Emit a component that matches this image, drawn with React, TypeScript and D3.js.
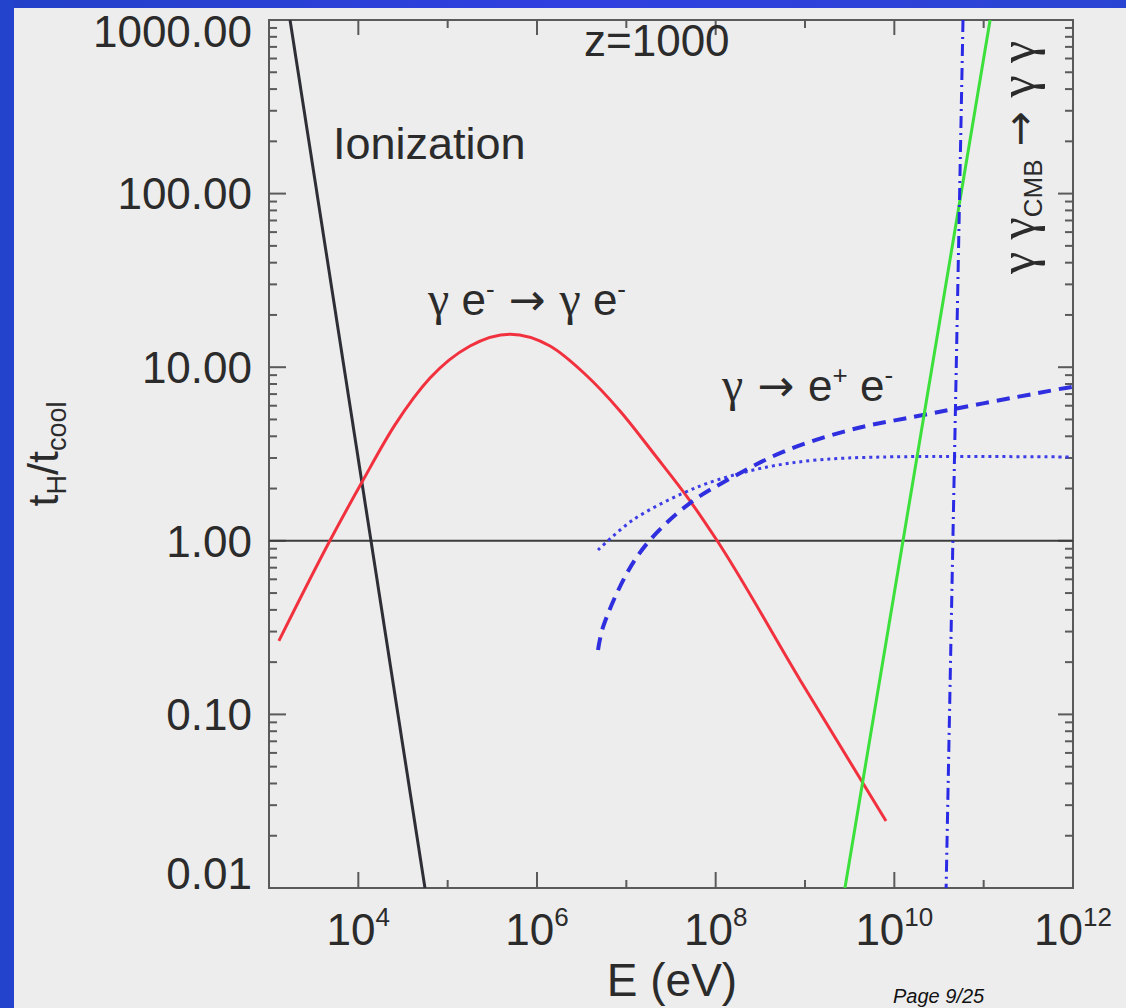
import React from "react";
import * as d3 from "d3";

// Axis ticks
const energyMajorTicks = [1e4, 1e6, 1e8, 1e10, 1e12];
const energyMajorExponents = ["4", "6", "8", "10", "12"];
const energyMinorTicks = [1e3, 1e5, 1e7, 1e9, 1e11];
const ratioMajorTicks = [0.01, 0.1, 1, 10, 100, 1000];
const ratioMajorLabels = ["0.01", "0.10", "1.00", "10.00", "100.00", "1000.00"];

// Ionization losses (straight power law)
const ionizationE = [1.72e3, 5.57e4];
const ionizationV = [1000, 0.01];

// Compton scattering  γ e⁻ → γ e⁻
const comptonE = [1.29e3, 4.8e3, 1.1e4, 2.57e4, 6.34e4, 1.78e5, 4.99e5, 1.4e6, 3.44e6, 8.49e6, 2.09e7, 5.16e7, 1.04e8, 8.8e8, 8.07e9];
const comptonV = [0.265, 1.0, 2.18, 4.65, 8.66, 13.25, 15.5, 13.25, 9.14, 5.6, 3.12, 1.7, 1.0, 0.158, 0.0243];

// Pair production  γ → e⁺ e⁻ (dashed)
const pairE = [4.82e6, 5.48e6, 1.02e7, 1.84e7, 5.16e7, 1.56e8, 5.67e8, 3.19e9, 2.09e10, 7.2e11, 9.76e11];
const pairV = [0.235, 0.318, 0.653, 1.01, 1.65, 2.33, 3.25, 4.35, 5.3, 7.5, 7.7];

// Pair production, second estimate (dotted)
const pairAltE = [4.82e6, 1.19e7, 4.31e7, 1.04e8, 3.76e8, 1.36e9, 7.47e9, 9.76e11];
const pairAltV = [0.885, 1.32, 1.88, 2.24, 2.66, 2.92, 3.04, 3.04];

// Photon–photon scattering on the CMB (green)
const photonPhotonE = [2.8e9, 1.18e11];
const photonPhotonV = [0.01, 1000];

// Photon–CMB pair threshold (dash-dot)
const thresholdE = [5.87e10, 3.8e10];
const thresholdV = [1000, 0.01];

const W = 1126;
const H = 1008;
const left = 269;
const right = 1073;
const top = 20;
const bottom = 888;

const FONT = "'Liberation Sans', Arial, Helvetica, sans-serif";
const GREEK = "'Liberation Serif', 'Times New Roman', serif";
const ARROW = "'DejaVu Sans', sans-serif";
const TEXT = "#2b2b2b";
const AXIS = "#5a5a5a";

function zip(xs: number[], ys: number[]): [number, number][] {
  return xs.map((x, i) => [x, ys[i]]);
}

export default function App() {
  const x = d3.scaleLog().domain([1e3, 1e12]).range([left, right]);
  const y = d3.scaleLog().domain([0.01, 1000]).range([bottom, top]);

  const straight = d3
    .line<[number, number]>()
    .x((d) => x(d[0]))
    .y((d) => y(d[1]));
  const smooth = d3
    .line<[number, number]>()
    .x((d) => x(d[0]))
    .y((d) => y(d[1]))
    .curve(d3.curveMonotoneX);
  const rounded = d3
    .line<[number, number]>()
    .x((d) => x(d[0]))
    .y((d) => y(d[1]))
    .curve(d3.curveCatmullRom.alpha(0.5));

  // minor ratio ticks 2..9 in every decade
  const ratioMinor: number[] = [];
  for (let p = -2; p < 3; p++) {
    for (let m = 2; m <= 9; m++) ratioMinor.push(m * Math.pow(10, p));
  }

  const labelY = (v: number) => Math.min(Math.max(y(v), top + 11), bottom - 15);

  return (
    <svg
      width={W}
      height={H}
      style={{ position: "absolute", left: 0, top: 0, display: "block" }}
      fontFamily={FONT}
    >
      <defs>
        <clipPath id="plot-clip">
          <rect x={left} y={top} width={right - left} height={bottom - top} />
        </clipPath>
        <linearGradient id="frame-blue" x1="0" y1="0" x2="1" y2="0">
          <stop offset="0" stopColor="#2240c8" />
          <stop offset="0.5" stopColor="#2f3fe0" />
          <stop offset="1" stopColor="#2a44d2" />
        </linearGradient>
      </defs>

      {/* slide background */}
      <rect x={0} y={0} width={W} height={H} fill="#ededed" />
      <rect x={0} y={0} width={W} height={8} fill="url(#frame-blue)" />
      <rect x={0} y={0} width={14} height={H} fill="#2343cc" />

      {/* frame */}
      <rect x={left} y={top} width={right - left} height={bottom - top} fill="none" stroke={AXIS} strokeWidth={2} />

      {/* ratio ticks, left and right */}
      {ratioMajorTicks.map((v) => (
        <g key={"ym" + v}>
          <line x1={left} x2={left + 17} y1={y(v)} y2={y(v)} stroke={AXIS} strokeWidth={2} />
          <line x1={right} x2={right - 15} y1={y(v)} y2={y(v)} stroke={AXIS} strokeWidth={2} />
        </g>
      ))}
      {ratioMinor.map((v) => (
        <g key={"yn" + v}>
          <line x1={left} x2={left + 8} y1={y(v)} y2={y(v)} stroke={AXIS} strokeWidth={2} />
          <line x1={right} x2={right - 8} y1={y(v)} y2={y(v)} stroke={AXIS} strokeWidth={2} />
        </g>
      ))}

      {/* energy ticks, bottom and top */}
      {energyMajorTicks.map((e) => (
        <g key={"xm" + e}>
          <line x1={x(e)} x2={x(e)} y1={bottom} y2={bottom - 16} stroke={AXIS} strokeWidth={2} />
          <line x1={x(e)} x2={x(e)} y1={top} y2={top + 15} stroke={AXIS} strokeWidth={2} />
        </g>
      ))}
      {energyMinorTicks.map((e) => (
        <g key={"xn" + e}>
          <line x1={x(e)} x2={x(e)} y1={bottom} y2={bottom - 8} stroke={AXIS} strokeWidth={2} />
          <line x1={x(e)} x2={x(e)} y1={top} y2={top + 8} stroke={AXIS} strokeWidth={2} />
        </g>
      ))}

      {/* tick labels */}
      {ratioMajorTicks.map((v, i) => (
        <text key={"yl" + v} x={252} y={labelY(v)} dy="0.36em" textAnchor="end" fontSize={44} fill={TEXT}>
          {ratioMajorLabels[i]}
        </text>
      ))}
      {energyMajorTicks.map((e, i) => (
        <text key={"xl" + e} x={x(e)} y={945} textAnchor="middle" fontSize={44} fill={TEXT}>
          10
          <tspan fontSize={26} dy={-19}>
            {energyMajorExponents[i]}
          </tspan>
        </text>
      ))}

      {/* axis titles */}
      <text x={672} y={996} textAnchor="middle" fontSize={46} fill={TEXT}>
        E (eV)
      </text>
      <text transform={`translate(58, 454) rotate(-90)`} textAnchor="middle" fontSize={43} fill={TEXT}>
        t<tspan fontSize={27} dy={8}>H</tspan>
        <tspan dy={-8}>/t</tspan>
        <tspan fontSize={27} dy={8}>cool</tspan>
      </text>

      {/* reference line t_H = t_cool */}
      <line x1={left} x2={right} y1={y(1)} y2={y(1)} stroke="#3c3c3c" strokeWidth={2} />

      <g clipPath="url(#plot-clip)" fill="none" strokeLinecap="butt">
        <path d={straight(zip(ionizationE, ionizationV)) || ""} stroke="#2e2e36" strokeWidth={3} />
        <path d={smooth(zip(comptonE, comptonV)) || ""} stroke="#f2313f" strokeWidth={3} />
        <path d={rounded(zip(pairAltE, pairAltV)) || ""} stroke="#3d3de6" strokeWidth={3} strokeDasharray="3,4" />
        <path d={rounded(zip(pairE, pairV)) || ""} stroke="#2f2fe0" strokeWidth={4} strokeDasharray="13,8" />
        <path d={straight(zip(photonPhotonE, photonPhotonV)) || ""} stroke="#3be03b" strokeWidth={3} />
        <path d={straight(zip(thresholdE, thresholdV)) || ""} stroke="#2a2ae6" strokeWidth={3} strokeDasharray="12,5,2,5" />
      </g>

      {/* annotations */}
      <text x={584} y={56} fontSize={44} fill={TEXT}>
        z=1000
      </text>
      <text x={333} y={159} fontSize={45} fill={TEXT}>
        Ionization
      </text>
      <text x={428} y={315} fontSize={44} fill={TEXT}>
        <tspan fontFamily={GREEK} fontSize={48}>γ</tspan> e<tspan fontSize={26} dy={-17}>-</tspan>
        <tspan dy={17} fontFamily={ARROW} fontSize={44}> → </tspan>
        <tspan fontFamily={GREEK} fontSize={48}>γ</tspan> e
        <tspan fontSize={26} dy={-17}>-</tspan>
      </text>
      <text x={722} y={401} fontSize={44} fill={TEXT}>
        <tspan fontFamily={GREEK} fontSize={48}>γ</tspan>
        <tspan fontFamily={ARROW} fontSize={44}> → </tspan>e<tspan fontSize={26} dy={-17}>+</tspan>
        <tspan dy={17}> e</tspan>
        <tspan fontSize={26} dy={-17}>-</tspan>
      </text>
      <text transform={`translate(1034, 274) rotate(-90)`} fontSize={42} fill={TEXT}>
        <tspan fontFamily={GREEK} fontSize={50}>γ γ</tspan>
        <tspan fontSize={26} dy={8}>CMB</tspan>
        <tspan dy={-8} fontFamily={ARROW} fontSize={42}> → </tspan>
        <tspan fontFamily={GREEK} fontSize={50}>γ γ</tspan>
      </text>

      <text x={893} y={1003} fontSize={20} fontStyle="italic" fill="#111">
        Page 9/25
      </text>
    </svg>
  );
}
